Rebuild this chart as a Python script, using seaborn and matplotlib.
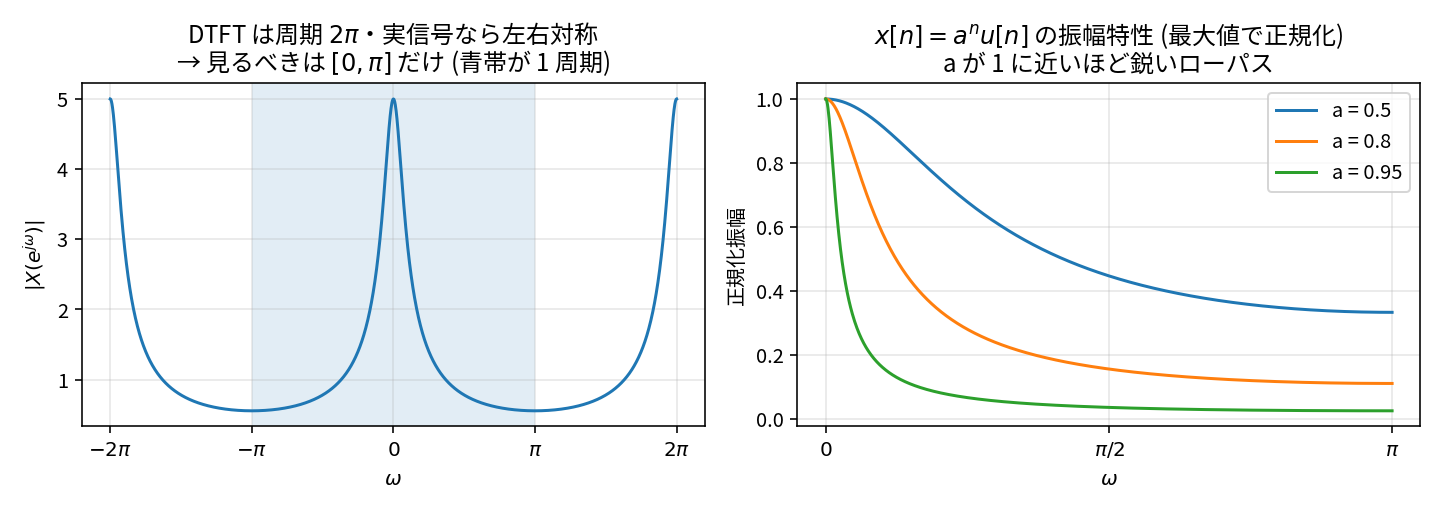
import numpy as np
import pandas as pd
import matplotlib
matplotlib.use("Agg")
import matplotlib.pyplot as plt
import seaborn as sns

plt.rcParams['font.family'] = ['Noto Sans CJK JP', 'DejaVu Sans']
plt.rcParams['mathtext.fontset'] = 'dejavusans'
plt.rcParams['axes.unicode_minus'] = False

# parameters (peak 5 at w=0 -> a=0.8; right plot ends at (1-a)/(1+a))
a_left = 0.8
a_values = [0.5, 0.8, 0.95]
left_ticks = [-2 * np.pi, -np.pi, 0, np.pi, 2 * np.pi]
left_ticklabels = [r'$-2\pi$', r'$-\pi$', r'$0$', r'$\pi$', r'$2\pi$']
right_ticks = [0, np.pi / 2, np.pi]
right_ticklabels = [r'$0$', r'$\pi/2$', r'$\pi$']


def dtft_mag(a, w):
    # x[n] = a^n u[n]  ->  X(e^jw) = 1 / (1 - a e^{-jw})
    return np.abs(1.0 / (1.0 - a * np.exp(-1j * w)))


w_full = np.linspace(-2 * np.pi, 2 * np.pi, 2000)
df_left = pd.DataFrame({'w': w_full, 'mag': dtft_mag(a_left, w_full)})

w_half = np.linspace(0, np.pi, 1000)
frames = []
for a in a_values:
    m = dtft_mag(a, w_half)
    frames.append(pd.DataFrame({'w': w_half, 'mag': m / m.max(), 'a': f'a = {a}'}))
df_right = pd.concat(frames, ignore_index=True)

fig, axes = plt.subplots(1, 2, figsize=(10.014, 3.556), dpi=144)

ax = axes[0]
ax.axvspan(-np.pi, np.pi, color='#1f77b4', alpha=0.13, lw=0)
sns.lineplot(data=df_left, x='w', y='mag', ax=ax, color='#1f77b4', lw=1.5)
ax.set_xticks(left_ticks)
ax.set_xticklabels(left_ticklabels)
ax.set_xlabel(r'$\omega$')
ax.set_ylabel(r'$|X(e^{j\omega})|$')
ax.set_title('DTFT は周期 $2\\pi$・実信号なら左右対称\n→ 見るべきは $[0,\\pi]$ だけ (青帯が 1 周期)', fontsize=12, linespacing=1.0)
ax.grid(True, alpha=0.3)

ax = axes[1]
sns.lineplot(data=df_right, x='w', y='mag', hue='a', ax=ax,
             palette=['#1f77b4', '#ff7f0e', '#2ca02c'], lw=1.5)
ax.set_xticks(right_ticks)
ax.set_xticklabels(right_ticklabels)
ax.set_xlabel(r'$\omega$')
ax.set_ylabel('正規化振幅')
ax.set_title('$x[n]=a^n u[n]$ の振幅特性 (最大値で正規化)\na が 1 に近いほど鋭いローパス', fontsize=12, linespacing=1.0)
ax.legend(title=None, loc='upper right')
ax.grid(True, alpha=0.3)

plt.tight_layout()
plt.savefig('out.png', dpi=144)
